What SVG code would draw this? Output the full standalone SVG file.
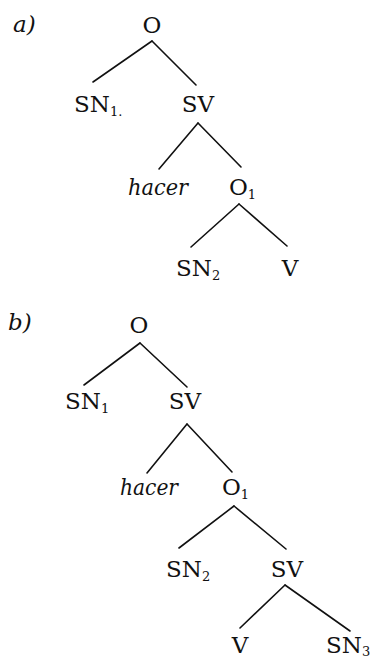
<svg xmlns="http://www.w3.org/2000/svg" width="383" height="660" viewBox="0 0 383 660">
<style>
text{font-family:"DejaVu Serif","Liberation Serif",serif;font-size:23px;fill:#111}
.it{font-style:italic}
.sub{font-size:13px}
.m{text-anchor:middle}
#edges line{stroke:#111;stroke-width:1.6;stroke-linecap:round}
</style>
<rect width="383" height="660" fill="#fff"/>
<g id="edges">
<line x1="152" y1="41" x2="93" y2="82"/>
<line x1="152" y1="41" x2="196" y2="85"/>
<line x1="198" y1="123" x2="159" y2="169"/>
<line x1="198" y1="123" x2="241" y2="167"/>
<line x1="239" y1="204" x2="191" y2="247"/>
<line x1="239" y1="204" x2="287" y2="246"/>
<line x1="140" y1="343" x2="84" y2="385"/>
<line x1="140" y1="343" x2="187" y2="387"/>
<line x1="187" y1="424" x2="147" y2="473"/>
<line x1="187" y1="424" x2="232" y2="472"/>
<line x1="234" y1="506" x2="179" y2="548"/>
<line x1="234" y1="506" x2="286" y2="549"/>
<line x1="285" y1="585" x2="240" y2="628"/>
<line x1="285" y1="585" x2="350" y2="631"/>
</g>
<g id="label-a"><text class="it" x="13" y="32">a)</text></g>
<g id="a-O"><text class="m" x="152" y="33">O</text></g>
<g id="a-SN1"><text x="74" y="112">SN<tspan class="sub" dy="4">1.</tspan></text></g>
<g id="a-SV"><text class="m" x="198" y="112">SV</text></g>
<g id="a-hacer"><text class="it" x="128" y="195" textLength="60" lengthAdjust="spacingAndGlyphs">hacer</text></g>
<g id="a-O1"><text x="229" y="195">O<tspan class="sub" dy="4">1</tspan></text></g>
<g id="a-SN2"><text x="176" y="276">SN<tspan class="sub" dy="4">2</tspan></text></g>
<g id="a-V"><text class="m" x="290" y="276">V</text></g>
<g id="label-b"><text class="it" x="8" y="330">b)</text></g>
<g id="b-O"><text class="m" x="139" y="333">O</text></g>
<g id="b-SN1"><text x="65" y="409">SN<tspan class="sub" dy="4">1</tspan></text></g>
<g id="b-SV"><text class="m" x="185" y="409">SV</text></g>
<g id="b-hacer"><text class="it" x="120" y="495" textLength="58" lengthAdjust="spacingAndGlyphs">hacer</text></g>
<g id="b-O1"><text x="222" y="495">O<tspan class="sub" dy="4">1</tspan></text></g>
<g id="b-SN2"><text x="166" y="577">SN<tspan class="sub" dy="4">2</tspan></text></g>
<g id="b-SV2"><text class="m" x="287" y="577">SV</text></g>
<g id="b-V"><text class="m" x="240" y="653">V</text></g>
<g id="b-SN3"><text x="326" y="653">SN<tspan class="sub" dy="3">3</tspan></text></g>
</svg>
